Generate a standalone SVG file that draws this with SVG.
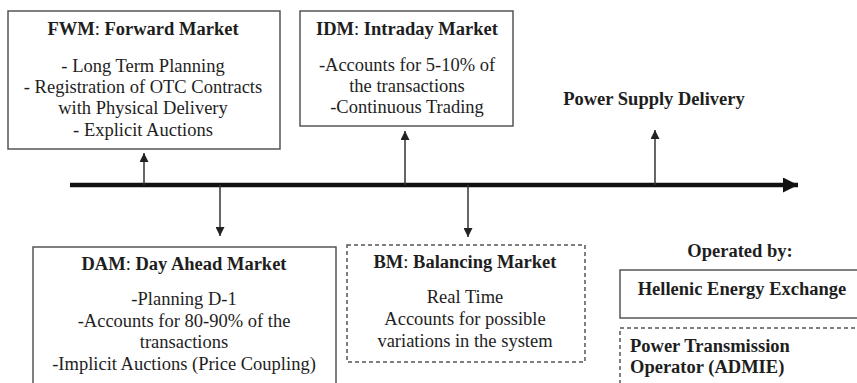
<svg xmlns="http://www.w3.org/2000/svg" width="857" height="383" viewBox="0 0 857 383">
<defs>
<marker id="ah" viewBox="0 0 10 10" refX="10" refY="5" markerWidth="9" markerHeight="9" markerUnits="userSpaceOnUse" orient="auto"><path d="M0,0 L10,5 L0,10 Z" fill="#222"/></marker>
<marker id="axh" viewBox="0 0 10 10" refX="10" refY="5" markerWidth="15" markerHeight="15" markerUnits="userSpaceOnUse" orient="auto"><path d="M0,0 L10,5 L0,10 Z" fill="#111"/></marker>
</defs>
<style>
text{font-family:'Liberation Serif','Times New Roman',serif;font-size:18.5px;fill:#1e1e1e;}
.t{font-weight:bold;}
.c{text-anchor:middle;}
.n{font-weight:normal;}
.box{fill:#fff;stroke:#555;stroke-width:1.5;}
.dbox{fill:#fff;stroke:#555;stroke-width:1.5;stroke-dasharray:4 3;}
.ar{stroke:#333;stroke-width:1.5;fill:none;marker-end:url(#ah);}
</style>
<rect width="857" height="383" fill="#fff"/>
<g id="connectors">
<line x1="70" y1="185" x2="798" y2="185" stroke="#111" stroke-width="4.5" marker-end="url(#axh)"/>
<line class="ar" x1="144" y1="185" x2="144" y2="153"/>
<line class="ar" x1="220" y1="185" x2="220" y2="236"/>
<line class="ar" x1="405" y1="185" x2="405" y2="131"/>
<line class="ar" x1="468" y1="185" x2="468" y2="237"/>
<line class="ar" x1="655" y1="185" x2="655" y2="130"/>
</g>
<g id="fwm">
<rect class="box" x="8" y="11" width="272" height="138"/>
<text class="c t" x="143" y="35">FWM<tspan class="n">: </tspan>Forward Market</text>
<text class="c" x="143" y="72">- Long Term Planning</text>
<text class="c" x="143" y="93">- Registration of OTC Contracts</text>
<text class="c" x="143" y="114">with Physical Delivery</text>
<text class="c" x="143" y="136">- Explicit Auctions</text>
</g>
<g id="idm">
<rect class="box" x="300" y="11" width="213" height="115"/>
<text class="c t" x="407" y="35">IDM<tspan class="n">: </tspan>Intraday Market</text>
<text class="c" x="407" y="71">-Accounts for 5-10% of</text>
<text class="c" x="407" y="92">the transactions</text>
<text class="c" x="407" y="113">-Continuous Trading</text>
</g>
<g id="psd">
<text class="c t" x="654" y="105">Power Supply Delivery</text>
</g>
<g id="dam">
<rect class="box" x="33" y="247" width="303" height="140"/>
<text class="c t" x="184" y="270">DAM<tspan class="n">: </tspan>Day Ahead Market</text>
<text class="c" x="184" y="305">-Planning D-1</text>
<text class="c" x="184" y="327">-Accounts for 80-90% of the</text>
<text class="c" x="184" y="348">transactions</text>
<text class="c" x="184" y="370">-Implicit Auctions (Price Coupling)</text>
</g>
<g id="bm">
<rect class="dbox" x="347" y="245" width="238" height="117"/>
<text class="c t" x="465" y="268">BM<tspan class="n">: </tspan>Balancing Market</text>
<text class="c" x="465" y="303">Real Time</text>
<text class="c" x="465" y="325">Accounts for possible</text>
<text class="c" x="465" y="347">variations in the system</text>
</g>
<g id="operated">
<text class="c t" x="740" y="257">Operated by:</text>
</g>
<g id="henex">
<rect class="box" x="620" y="270" width="245" height="48"/>
<text class="c t" x="742" y="295">Hellenic Energy Exchange</text>
</g>
<g id="admie">
<rect class="dbox" x="620" y="328" width="245" height="70"/>
<text class="t" x="630" y="352">Power Transmission</text>
<text class="t" x="630" y="373">Operator (ADMIE)</text>
</g>
</svg>
